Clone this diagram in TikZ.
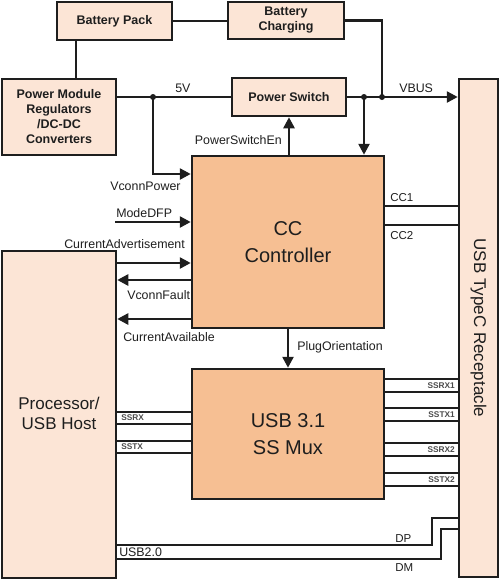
\documentclass[tikz,border=0pt]{standalone}
\usepackage{fontspec}
\setmainfont{Liberation Sans}
\usetikzlibrary{arrows.meta,calc}
\definecolor{lightbox}{HTML}{FCE5D6}
\definecolor{orangebox}{HTML}{F6BF93}
\definecolor{ink}{HTML}{1E1E1E}
\begin{document}
\begin{tikzpicture}[x=1pt,y=-1pt,color=ink,line width=2.5pt,
  box/.style={draw=ink,line width=2.5pt,inner sep=0pt,align=center,text=ink},
  lbox/.style={box,fill=lightbox,font=\fontsize{12.5}{15}\selectfont\bfseries},
  obox/.style={box,fill=orangebox,font=\fontsize{20}{27}\selectfont},
  lab/.style={inner sep=0pt,text=ink,font=\fontsize{12.4}{14}\selectfont},
  slab/.style={inner sep=0pt,text=ink!80,font=\fontsize{8.3}{9}\selectfont\bfseries},
  arr/.style={-{Triangle[length=11pt,width=11pt]}},
  dot/.style={circle,fill=ink,draw=none,inner sep=0pt,minimum size=6pt}]
\useasboundingbox (0,0) rectangle (500,579);
% boxes
\node[lbox,minimum width=115,minimum height=38] (bp) at (114.5,21) {Battery Pack};
\node[lbox,minimum width=116,minimum height=37] (bc) at (286,20.5) {Battery\\Charging};
\node[lbox,minimum width=114,minimum height=76] (pm) at (59,117) {Power Module\\Regulators\\/DC-DC\\Converters};
\node[lbox,minimum width=114,minimum height=38] (ps) at (289,97) {Power Switch};
\node[obox,minimum width=192,minimum height=172] (cc) at (288,242) {CC\\Controller};
\node[box,fill=lightbox,minimum width=39,minimum height=498] (rec) at (478.5,328) {};
\node[inner sep=0pt,text=ink,rotate=-90,font=\fontsize{17}{20}\selectfont] (rect) at (rec.center) {USB TypeC Receptacle};
\node[box,fill=lightbox,minimum width=114,minimum height=327] (proc) at (59,414.5) {};
\node[inner sep=0pt,text=ink,align=center,font=\fontsize{17}{20}\selectfont] (proct) at (59,413) {Processor/\\USB Host};
\node[obox,minimum width=192,minimum height=130] (mux) at (288,434) {USB 3.1\\SS Mux};
% coordinates
\coordinate (j5) at (153,97);
\coordinate (jv) at (364,97);
\coordinate (jb) at (382,97);
\coordinate (md) at (115,222);
\coordinate (dpk) at (432,518);
\coordinate (dmk) at (441,529);
% top connections
\draw (bp.east) -- (bc.west |- bp.east);
\draw (bp.south -| 76,0) -- (pm.north -| 76,0);
\draw (ps.west -| pm.east) -- (ps.west);
\draw[arr] (ps.east) -- (rec.west |- ps.east);
\draw (bc.east) -| (jb);
\draw[arr] (jv) -- (cc.north -| jv);
\draw[arr] (cc.north -| ps.south) -- (ps.south);
\draw[arr] (j5) |- (cc.west |- 0,174);
\node[dot] (d1) at (j5) {};
\node[dot] (d2) at (jv) {};
\node[dot] (d3) at (jb) {};
% left signals
\draw[arr] (md) -- (cc.west |- md);
\draw[arr] (proc.east |- 0,263) -- (cc.west |- 0,263);
\draw[arr] (cc.west |- 0,280) -- (proc.east |- 0,280);
\draw[arr] (cc.west |- 0,319) -- (proc.east |- 0,319);
\draw[arr] (cc.south) -- (mux.north);
% CC lines
\draw (cc.east |- 0,206) -- (rec.west |- 0,206);
\draw (cc.east |- 0,225) -- (rec.west |- 0,225);
% SS lines left
\foreach \y in {412,424,441,453} \draw (proc.east |- 0,\y) -- (mux.west |- 0,\y);
% SS lines right
\foreach \y in {379,392,408,421,443,456,473,486} \draw (mux.east |- 0,\y) -- (rec.west |- 0,\y);
% USB2
\draw (proc.east |- 0,545) -| (dpk) -- (rec.west |- dpk);
\draw (proc.east |- 0,559) -| (dmk) -- (rec.west |- dmk);
% labels
\node[lab,anchor=west] (l5v) at (174,88) {5V};
\node[lab,anchor=west] (lvbus) at (398,88) {VBUS};
\node[lab,anchor=east] (lpse) at (283,140) {PowerSwitchEn};
\node[lab,anchor=west] (lvp) at (109,186) {VconnPower};
\node[lab,anchor=west] (lmd) at (115,213) {ModeDFP};
\node[lab,anchor=west] (lca) at (63,244) {CurrentAdvertisement};
\node[lab,anchor=west] (lvf) at (126,295) {VconnFault};
\node[lab,anchor=west] (lcav) at (122,337) {CurrentAvailable};
\node[lab,anchor=west] (lpo) at (296,347) {PlugOrientation};
\node[lab,anchor=west,font=\fontsize{11.5}{13}\selectfont] (lcc1) at (389,198) {CC1};
\node[lab,anchor=west,font=\fontsize{11.5}{13}\selectfont] (lcc2) at (389,236) {CC2};
\node[slab,anchor=west] (lsrx) at (120,418) {SSRX};
\node[slab,anchor=west] (lstx) at (120,447) {SSTX};
\node[slab,anchor=east] (lsrx1) at (456,385.5) {SSRX1};
\node[slab,anchor=east] (lstx1) at (456,414.5) {SSTX1};
\node[slab,anchor=east] (lsrx2) at (456,449.5) {SSRX2};
\node[slab,anchor=east] (lstx2) at (456,479.5) {SSTX2};
\node[lab,anchor=west] (lusb) at (118,552) {USB2.0};
\node[lab,anchor=west,font=\fontsize{11.5}{13}\selectfont] (ldp) at (394,539) {DP};
\node[lab,anchor=west,font=\fontsize{11.5}{13}\selectfont] (ldm) at (394,568) {DM};
\end{tikzpicture}
\end{document}
